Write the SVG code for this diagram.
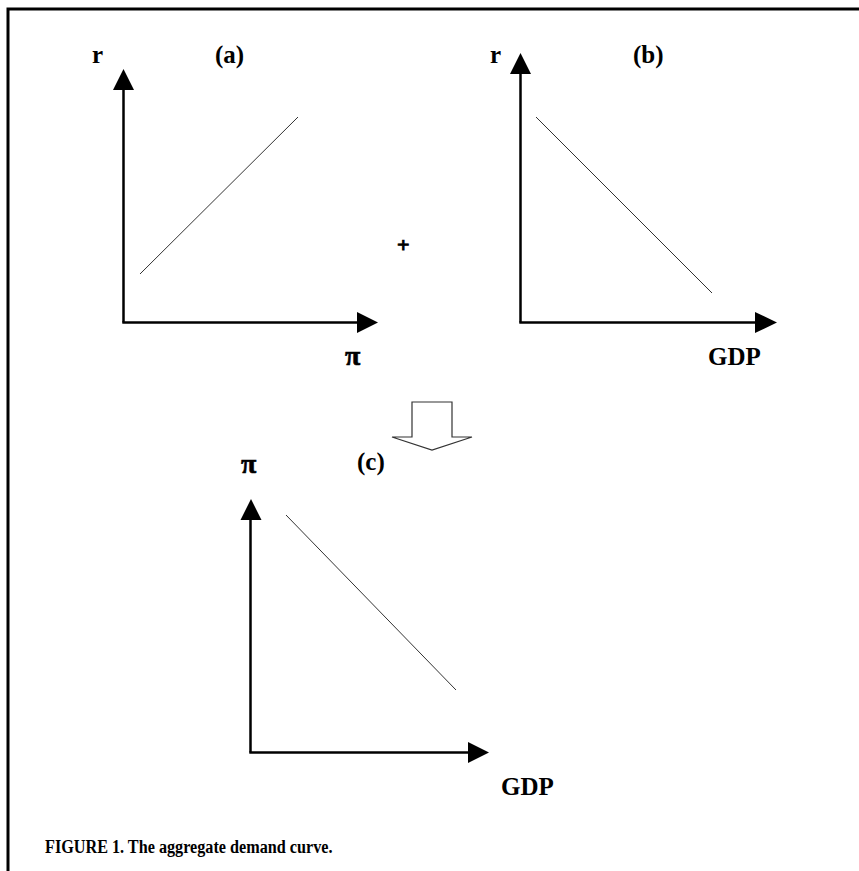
<svg xmlns="http://www.w3.org/2000/svg" width="859" height="871" viewBox="0 0 859 871">
<style>
.axis{stroke:#000;stroke-width:2.5;fill:none}
.head{fill:#000;stroke:none}
.curve{stroke:#333;stroke-width:1;fill:none}
.lbl{font-family:"Liberation Serif","Times New Roman",serif;font-weight:bold;font-size:25px;fill:#000}
.pi{font-family:"Liberation Serif","Times New Roman",serif;font-weight:bold;font-size:28px;fill:#000;stroke:#000;stroke-width:0.6}
.cap{font-family:"Liberation Serif","Times New Roman",serif;font-weight:bold;font-size:16.2px;fill:#000}
</style>
<rect width="859" height="871" fill="#fff"/>
<rect x="8" y="9" width="880" height="900" fill="none" stroke="#000" stroke-width="3"/>
<g id="panel-a">
<line class="axis" x1="123.5" y1="90" x2="123.5" y2="322.5"/>
<polygon class="head" points="113,90 134,90 123.5,69"/>
<line class="axis" x1="122.3" y1="322.5" x2="358" y2="322.5"/>
<polygon class="head" points="357,312 357,333 378,322.5"/>
<line class="curve" x1="140" y1="274" x2="298" y2="117"/>
<text class="lbl" x="92" y="63">r</text>
<text class="lbl" x="215" y="63">(a)</text>
<text class="pi" x="345" y="365">π</text>
</g>
<g id="plus"><text class="lbl" x="397" y="252" style="font-size:22px;stroke:#000;stroke-width:0.9">+</text></g>
<g id="panel-b">
<line class="axis" x1="520.5" y1="74" x2="520.5" y2="322.5"/>
<polygon class="head" points="510,74 531,74 520.5,53"/>
<line class="axis" x1="519.3" y1="322.5" x2="756" y2="322.5"/>
<polygon class="head" points="755,312 755,333 777,322.5"/>
<line class="curve" x1="536" y1="117" x2="712" y2="293"/>
<text class="lbl" x="490" y="63">r</text>
<text class="lbl" x="633" y="63">(b)</text>
<text class="lbl" x="708" y="365">GDP</text>
</g>
<g id="block-arrow">
<polygon points="412,402 452,402 452,437 472,437 432,450 392,437 412,437" fill="#fff" stroke="#333" stroke-width="1.2"/>
</g>
<g id="panel-c">
<line class="axis" x1="250.5" y1="519" x2="250.5" y2="752.5"/>
<polygon class="head" points="240.5,520 261.5,520 251,499"/>
<line class="axis" x1="249.3" y1="752.5" x2="469" y2="752.5"/>
<polygon class="head" points="468,742 468,763 489,752.5"/>
<line class="curve" x1="286" y1="515" x2="456" y2="690"/>
<text class="pi" x="241" y="473">π</text>
<text class="lbl" x="357" y="470">(c)</text>
<text class="lbl" x="501" y="795">GDP</text>
</g>
<g id="caption"><text class="cap" transform="translate(45,853) scale(1,1.15)">FIGURE 1. The aggregate demand curve.</text></g>
</svg>
